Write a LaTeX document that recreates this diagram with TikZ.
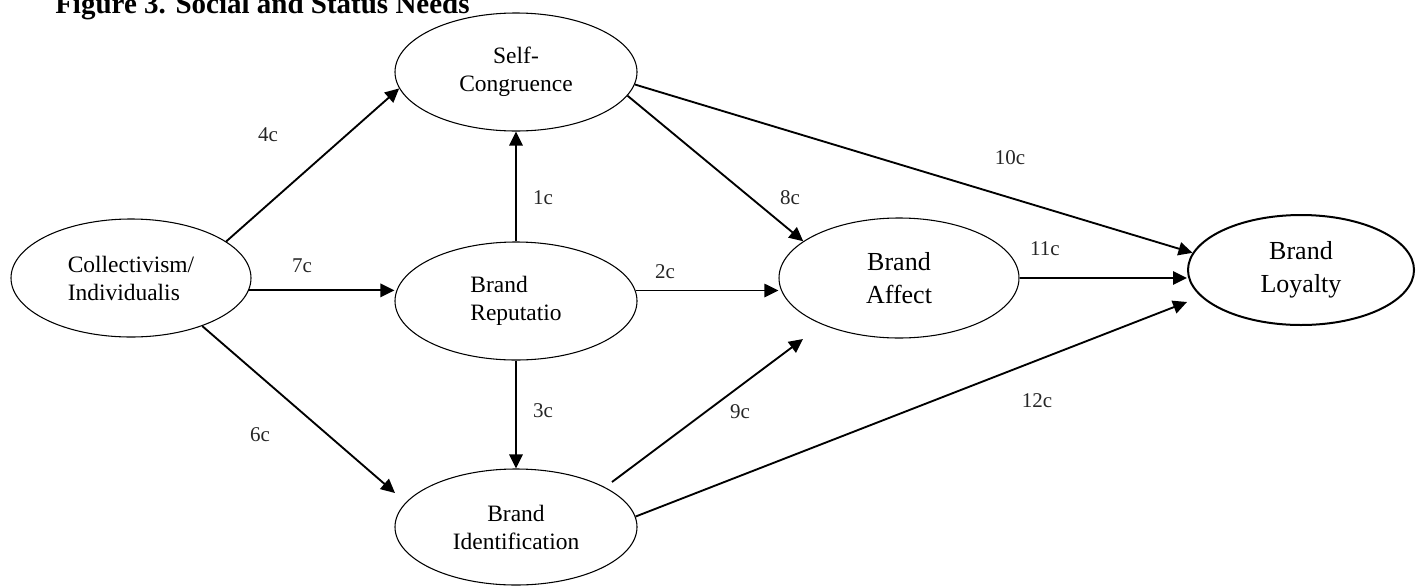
\documentclass[tikz,border=0pt]{standalone}
\usepackage{fontspec}
\setmainfont{Liberation Serif}
\usetikzlibrary{arrows.meta,shapes.geometric}
\begin{document}
\begin{tikzpicture}[x=0.75pt,y=-0.75pt,
  ell/.style={draw, ellipse, line width=0.8pt, inner sep=0pt,
    font=\fontsize{17.6}{21}\selectfont},
  bigell/.style={draw, ellipse, line width=0.8pt, inner sep=0pt, align=center,
    font=\fontsize{19.5}{24.5}\selectfont},
  arr/.style={line width=1.4pt, -{Triangle[length=10.5pt,width=10pt]}},
  lbl/.style={font=\fontsize{15.75}{18}\selectfont, inner sep=0pt, text=black!85}]
\useasboundingbox (0,0) rectangle (1416,586);

\node[font=\bfseries\fontsize{21.75}{26}\selectfont, anchor=base west, inner sep=0pt] (title) at (55,13) {Figure 3. Social and Status Needs};

\node[ell, align=left, minimum width=180pt, minimum height=88.5pt] (coll) at (131,278) {Collectivism/\\Individualis};
\node[ell, align=center, minimum width=181.5pt, minimum height=88.5pt] (self) at (516,72) {Self-\\Congruence};
\node[ell, align=left, minimum width=181.5pt, minimum height=88.5pt] (rep) at (516,301) {Brand\\Reputatio};
\node[ell, align=center, minimum width=181.5pt, minimum height=87pt] (ident) at (516,527) {Brand\\Identification};
\node[bigell, minimum width=180pt, minimum height=90pt] (affect) at (899,278) {Brand\\Affect};
\node[bigell, line width=1.5pt, minimum width=169.5pt, minimum height=82.5pt] (loyal) at (1301,270) {Brand\\Loyalty};

\coordinate (t6) at (395,493);
\coordinate (s9) at (612,482);
\coordinate (t9) at (803,339);
\coordinate (t12) at (1187,302);

\draw[arr] (coll.21) -- (self.188);
\draw[arr] (coll.-6) -- (coll.-6 -| rep.west);
\draw[arr] (coll.-34) -- (t6);
\draw[arr] (rep.north) -- (self.south);
\draw[arr] (rep.5) -- (rep.5 -| affect.west);
\draw[arr] (rep.south) -- (ident.north);
\draw[arr] (self.-12) -- (affect.159);
\draw[arr] (s9) -- (t9);
\draw[arr] (self.-6) -- (loyal.171);
\draw[arr] (affect.east) -- (affect.east -| loyal.west);
\draw[arr] (ident.5) -- (t12);

\node[lbl] (l4) at (268,135) {4c};
\node[lbl] (l7) at (302,266) {7c};
\node[lbl] (l6) at (260,435) {6c};
\node[lbl] (l1) at (543,198) {1c};
\node[lbl] (l2) at (665,272) {2c};
\node[lbl] (l3) at (543,411) {3c};
\node[lbl] (l8) at (790,198) {8c};
\node[lbl] (l9) at (740,412) {9c};
\node[lbl] (l10) at (1010,158) {10c};
\node[lbl] (l11) at (1045,249) {11c};
\node[lbl] (l12) at (1037,401) {12c};
\end{tikzpicture}
\end{document}
